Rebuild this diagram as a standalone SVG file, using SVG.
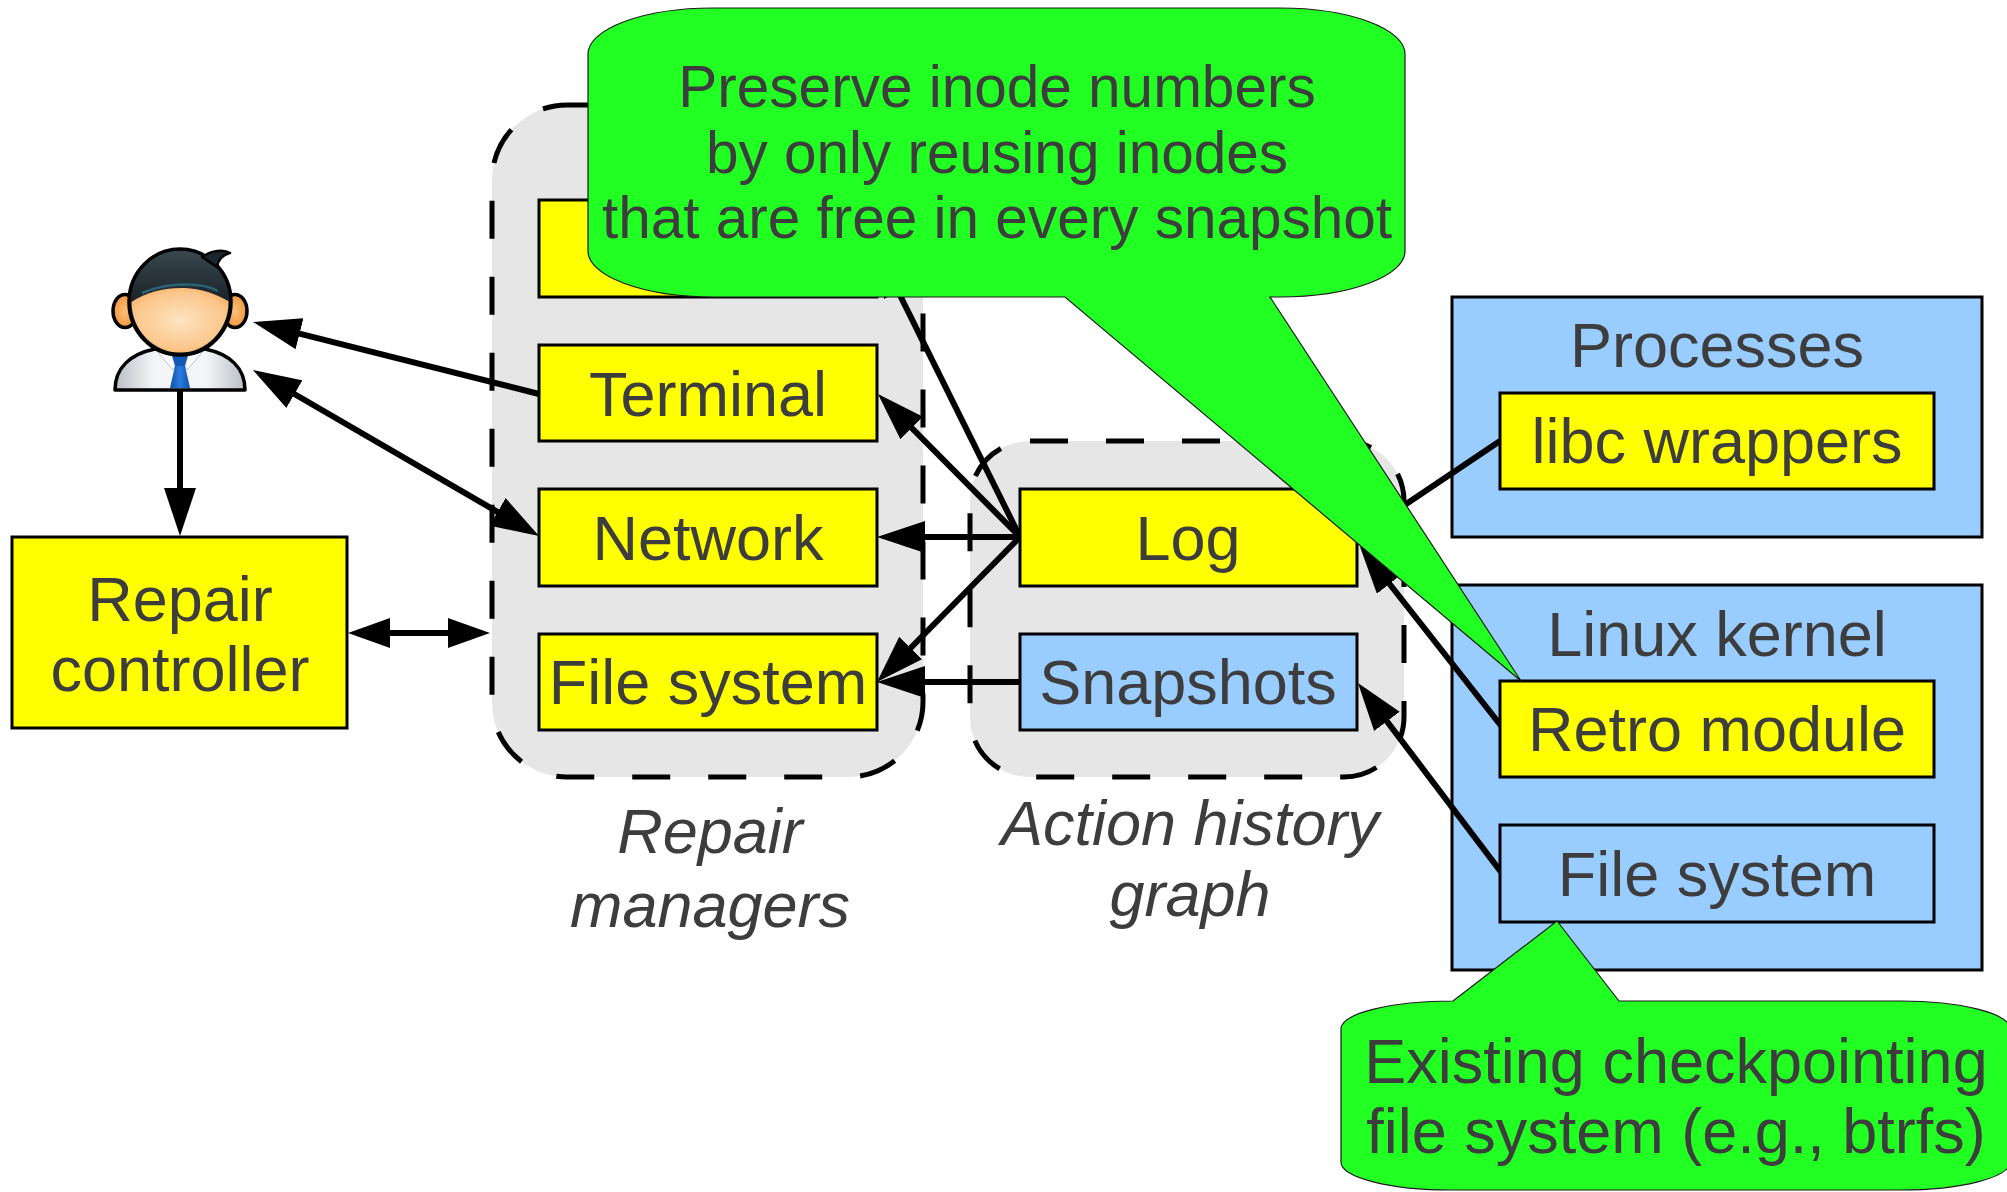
<svg xmlns="http://www.w3.org/2000/svg" width="2007" height="1192" viewBox="0 0 2007 1192">
  <style>
    text { font-family: "Liberation Sans", Arial, sans-serif; fill: #3d3d3d; text-anchor: middle; }
    .lbl { font-size: 63px; }
    .cap { font-size: 63px; font-style: italic; }
    .note1 { font-size: 58.5px; }
    .note2 { font-size: 63px; }
    .yel { fill: #ffff00; stroke: #000; stroke-width: 3; }
    .blu { fill: #99ccff; stroke: #000; stroke-width: 3; }
    .grp { fill: #e6e6e6; stroke: #000; stroke-width: 5; stroke-dasharray: 38 38; }
    .con { fill: none; stroke: #000; stroke-width: 6; }
    .arr { marker-end: url(#ah); }
    .arr2 { marker-start: url(#ah); marker-end: url(#ah); }
    .callout { fill: #22ff22; stroke: #1a1a1a; stroke-width: 1.2; }
  </style>
  <defs>
    <marker id="ah" markerUnits="userSpaceOnUse" markerWidth="48" markerHeight="32" viewBox="0 0 48 32" refX="38" refY="16" orient="auto-start-reverse">
      <path d="M0,0 L48,16 L0,32 Z" fill="#000"/>
    </marker>
    <marker id="ahs" markerUnits="userSpaceOnUse" markerWidth="42" markerHeight="30" viewBox="0 0 42 30" refX="32" refY="15" orient="auto-start-reverse">
      <path d="M0,0 L42,15 L0,30 Z" fill="#000"/>
    </marker>
    <radialGradient id="skin" cx="0.5" cy="0.45" r="0.6">
      <stop offset="0" stop-color="#fde3c0"/>
      <stop offset="0.65" stop-color="#fbc68a"/>
      <stop offset="1" stop-color="#f29a45"/>
    </radialGradient>
    <radialGradient id="ear" cx="0.5" cy="0.5" r="0.6">
      <stop offset="0" stop-color="#fbc07a"/>
      <stop offset="1" stop-color="#ee8f32"/>
    </radialGradient>
    <linearGradient id="hair" x1="0" y1="0" x2="0" y2="1">
      <stop offset="0" stop-color="#3a4850"/>
      <stop offset="0.6" stop-color="#121a20"/>
      <stop offset="1" stop-color="#0b1115"/>
    </linearGradient>
    <linearGradient id="shirt" x1="0" y1="0" x2="1" y2="0">
      <stop offset="0" stop-color="#b9bec6"/>
      <stop offset="0.3" stop-color="#f4f5f7"/>
      <stop offset="0.7" stop-color="#f4f5f7"/>
      <stop offset="1" stop-color="#b9bec6"/>
    </linearGradient>
    <linearGradient id="tie" x1="0" y1="0" x2="1" y2="0">
      <stop offset="0" stop-color="#0d4fa8"/>
      <stop offset="0.5" stop-color="#2b7be0"/>
      <stop offset="1" stop-color="#0d4fa8"/>
    </linearGradient>
    <clipPath id="headClip">
      <ellipse cx="0" cy="302" rx="48.5" ry="50.5"/>
    </clipPath>
  </defs>

  <!-- dashed group backgrounds -->
  <g id="repair-managers-group">
    <rect class="grp" x="492" y="105" width="431" height="672" rx="75" ry="75"/>
    <text class="cap" x="710" y="853">Repair</text>
    <text class="cap" x="710" y="927">managers</text>
  </g>
  <g id="action-history-group">
    <rect class="grp" x="970" y="441" width="434" height="336" rx="60" ry="60"/>
    <text class="cap" x="1190" y="845">Action history</text>
    <text class="cap" x="1190" y="916">graph</text>
  </g>

  <!-- outer boxes on the right -->
  <g id="processes">
    <rect class="blu" x="1452" y="297" width="530" height="240"/>
    <text class="lbl" x="1717" y="367">Processes</text>
  </g>
  <g id="linux-kernel">
    <rect class="blu" x="1452" y="585" width="530" height="385"/>
    <text class="lbl" x="1717" y="656">Linux kernel</text>
  </g>

  <!-- connectors -->
  <g id="connectors">
    <path class="con arr" d="M180,390 L180,526"/>
    <path class="con" style="marker-start:url(#ahs);marker-end:url(#ahs)" d="M358,633 L480,633"/>
    <path class="con arr" d="M539,394 L262.7,324.4"/>
    <path class="con arr2" d="M261.6,375 L530.4,531"/>
    <path class="con arr" d="M1020,537 L885,401"/>
    <path class="con arr" d="M1020,537 L887,537"/>
    <path class="con arr" d="M1020,537 L884,675"/>
    <path class="con arr" d="M1020,537 L881.5,258"/>
    <path class="con arr" d="M1020,682 L887,682"/>
    <path class="con arr" d="M1502,727 L1366,554"/>
    <path class="con arr" d="M1501,872 L1364,691"/>
    <path class="con" d="M1357,537 L1500,441"/>
  </g>

  <!-- user -->
  <g id="user" transform="translate(180,0)">
    <path d="M-65,390 C-65,368 -50,354 -25,349 L25,349 C50,354 65,368 65,390 Z" fill="url(#shirt)" stroke="#000" stroke-width="3.5" stroke-linejoin="round"/>
    <path d="M-25,349 L-7,370 L0,357 Z M25,349 L7,370 L0,357 Z" fill="#ffffff" stroke="#a9aeb6" stroke-width="0.8"/>
    <path d="M-8,356 L8,356 L5,366 L-5,366 Z" fill="#1459b8"/>
    <path d="M-5,366 L5,366 L10,388 L-10,388 Z" fill="url(#tie)"/>
    <ellipse cx="-55" cy="311" rx="12" ry="16.5" fill="url(#ear)" stroke="#000" stroke-width="3.5"/>
    <ellipse cx="55" cy="311" rx="12" ry="16.5" fill="url(#ear)" stroke="#000" stroke-width="3.5"/>
    <ellipse cx="0" cy="302" rx="51" ry="53" fill="url(#hair)" stroke="#000" stroke-width="3.5"/>
    <g clip-path="url(#headClip)">
      <path d="M-60,313 C-45,293 -15,287 5,288 C25,289 45,297 60,309 L60,360 L-60,360 Z" fill="url(#skin)"/>
      <path d="M-38,293 C-15,283 20,281 38,291" fill="none" stroke="#2f6f86" stroke-width="2.5" opacity="0.8"/>
    </g>
    <path d="M22,257 C32,250 44,249 50,253 C42,255 38,260 37,267 Z" fill="#1a252c" stroke="#000" stroke-width="2.5" stroke-linejoin="round"/>
  </g>

  <!-- boxes -->
  <g id="repair-controller">
    <rect class="yel" x="12" y="537" width="335" height="191"/>
    <text class="lbl" x="180" y="621">Repair</text>
    <text class="lbl" x="180" y="691">controller</text>
  </g>
  <g id="manager-top">
    <rect class="yel" x="539" y="200" width="338" height="97"/>
  </g>
  <g id="terminal">
    <rect class="yel" x="539" y="345" width="338" height="96"/>
    <text class="lbl" x="708" y="416">Terminal</text>
  </g>
  <g id="network">
    <rect class="yel" x="539" y="489" width="338" height="97"/>
    <text class="lbl" x="708" y="560">Network</text>
  </g>
  <g id="manager-fs">
    <rect class="yel" x="539" y="634" width="338" height="96"/>
    <text class="lbl" x="708" y="704">File system</text>
  </g>
  <g id="log">
    <rect class="yel" x="1020" y="489" width="337" height="97"/>
    <text class="lbl" x="1188" y="560">Log</text>
  </g>
  <g id="snapshots">
    <rect class="blu" x="1020" y="634" width="337" height="96"/>
    <text class="lbl" x="1188" y="704">Snapshots</text>
  </g>
  <g id="libc-wrappers">
    <rect class="yel" x="1500" y="393" width="434" height="96"/>
    <text class="lbl" x="1717" y="463">libc wrappers</text>
  </g>
  <g id="retro-module">
    <rect class="yel" x="1500" y="681" width="434" height="96"/>
    <text class="lbl" x="1717" y="751">Retro module</text>
  </g>
  <g id="kernel-fs">
    <rect class="blu" x="1500" y="825" width="434" height="97"/>
    <text class="lbl" x="1717" y="896">File system</text>
  </g>

  <!-- callouts -->
  <g id="note-inodes">
    <path class="callout" d="M713,8 H1280 A125,46 0 0 1 1405,54 V251 A125,46 0 0 1 1280,297 H1270 L1521,681 L1065,297 H713 A125,46 0 0 1 588,251 V54 A125,46 0 0 1 713,8 Z"/>
    <text class="note1" x="997" y="107">Preserve inode numbers</text>
    <text class="note1" x="997" y="173">by only reusing inodes</text>
    <text class="note1" x="997" y="238">that are free in every snapshot</text>
  </g>
  <g id="note-btrfs">
    <path class="callout" d="M1453,1001 L1557,921 L1619,1001 H1900 A110,28 0 0 1 2010,1029 V1162 A110,28 0 0 1 1900,1190 H1451 A110,28 0 0 1 1341,1162 V1029 A112,28 0 0 1 1453,1001 Z"/>
    <text class="note2" x="1676" y="1083">Existing checkpointing</text>
    <text class="note2" x="1676" y="1153">file system (e.g., btrfs)</text>
  </g>
</svg>
